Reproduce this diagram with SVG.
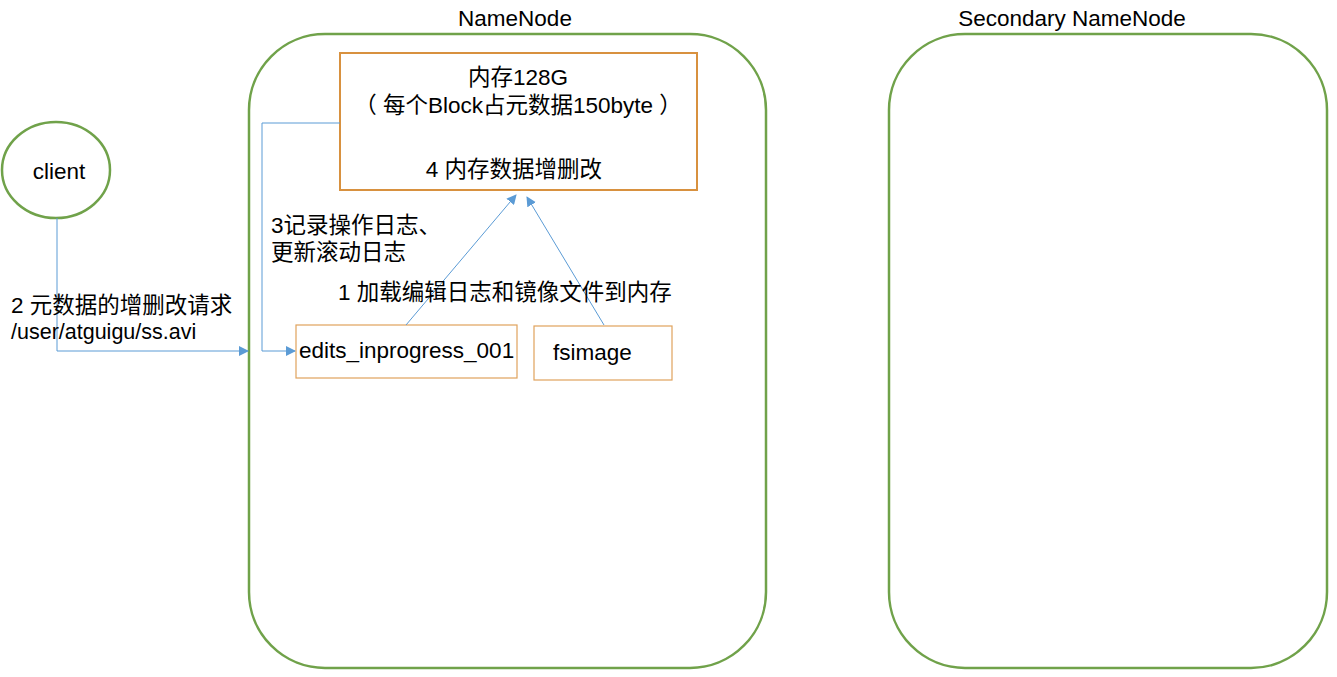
<svg xmlns="http://www.w3.org/2000/svg" width="1337" height="677" viewBox="0 0 1337 677">
<defs>
<style>
.t{font-family:"Liberation Sans","Noto Sans CJK SC",sans-serif;font-size:22.5px;fill:#000}
.c{font-family:"Liberation Sans","Noto Sans CJK SC",sans-serif;font-size:22.5px;fill:#000}
.green{fill:none;stroke:#70A24A;stroke-width:2.5}
.box{fill:#fff;stroke:#D8913F;stroke-width:2}
.sbox{fill:#fff;stroke:#E0A25C;stroke-width:1.2}
.con{fill:none;stroke:#5B9BD5;stroke-width:1}
</style>
<marker id="ah" markerWidth="10" markerHeight="10" refX="9" refY="5" orient="auto" markerUnits="userSpaceOnUse">
<path d="M0,0 L10,5 L0,10 Z" fill="#5B9BD5"/>
</marker>
</defs>
<rect width="1337" height="677" fill="#fff"/>
<g id="namenode">
<rect class="green" x="249" y="34" width="517" height="634" rx="76" ry="76"/>
<text class="t" x="515" y="26" text-anchor="middle">NameNode</text>
</g>
<g id="secondary">
<rect class="green" x="889" y="34" width="438" height="634" rx="76" ry="76"/>
<text class="t" x="1072" y="26" text-anchor="middle">Secondary NameNode</text>
</g>
<g id="client">
<ellipse class="green" cx="56" cy="170" rx="54" ry="48"/>
<text class="t" x="59" y="179" text-anchor="middle">client</text>
</g>
<g id="memory">
<rect class="box" x="340" y="53" width="357" height="137"/>
<text class="t" x="518" y="85" text-anchor="middle">内存128G</text>
<text class="t" x="518" y="113" text-anchor="middle" xml:space="preserve">（ 每个Block占元数据150byte ）</text>
<text class="t" x="514" y="177" text-anchor="middle">4 内存数据增删改</text>
</g>
<g id="edits">
<rect class="sbox" x="296" y="325" width="221" height="53"/>
<text class="t" x="299" y="358">edits_inprogress_001</text>
</g>
<g id="fsimage">
<rect class="sbox" x="534" y="326" width="138" height="54"/>
<text class="t" x="553" y="360">fsimage</text>
</g>
<g id="connectors">
<polyline class="con" points="57,218 57,351 248,351" marker-end="url(#ah)"/>
<polyline class="con" points="340,123 262,123 262,351 295,351" marker-end="url(#ah)"/>
<line class="con" x1="406" y1="325" x2="516" y2="195" marker-end="url(#ah)"/>
<line class="con" x1="604" y1="325" x2="527" y2="197" marker-end="url(#ah)"/>
</g>
<g id="labels">
<text class="c" x="271" y="233">3记录操作日志、</text>
<text class="c" x="271" y="260">更新滚动日志</text>
<text class="c" x="338" y="300">1 加载编辑日志和镜像文件到内存</text>
<text class="c" x="11" y="313">2 元数据的增删改请求</text>
<text class="c" x="11" y="339" style="font-size:21.5px">/user/atguigu/ss.avi</text>
</g>
</svg>
